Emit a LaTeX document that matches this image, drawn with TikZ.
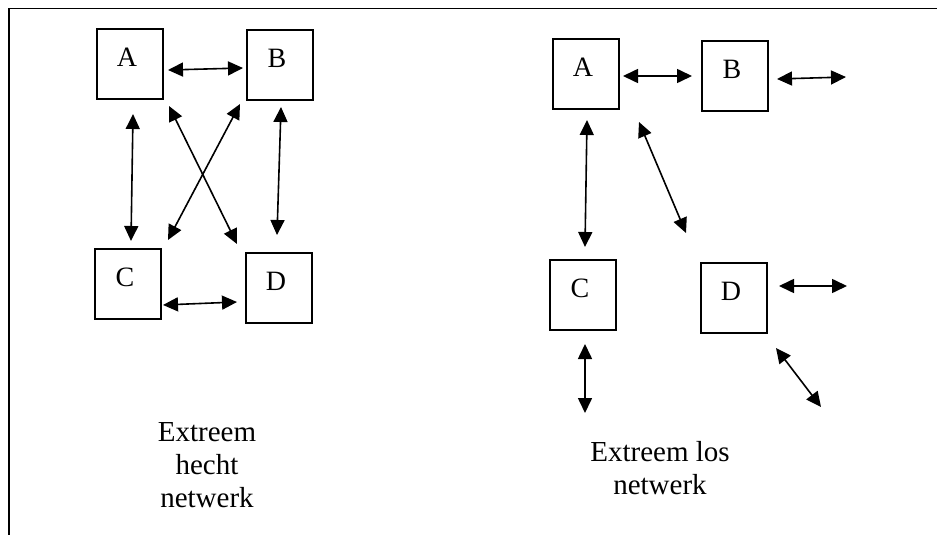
\documentclass[tikz,border=0pt]{standalone}
\usepackage{fontspec}
\setmainfont{Liberation Serif}
\usetikzlibrary{arrows.meta,calc}
\begin{document}
\begin{tikzpicture}[x=1pt,y=-1pt,
  box/.style={draw,line width=1.7pt,minimum width=66pt,minimum height=70pt,inner sep=0pt},
  lbl/.style={font=\fontsize{28}{32}\selectfont,yshift=7pt,xshift=-3pt},
  arr/.style={line width=1.6pt,{Triangle[length=15pt,width=14pt]}-{Triangle[length=15pt,width=14pt]}},
  caption/.style={align=center,font=\fontsize{29}{33}\selectfont,inner sep=0pt}]
\useasboundingbox (0,0) rectangle (937,535);
% frame
\draw[line width=1.8pt] (937,8.5) -- (9,8.5) -- (9,535);
% left network
\node[box,label={[lbl]center:A}] (LA) at (130,64) {};
\node[box,label={[lbl]center:B}] (LB) at (280,65) {};
\node[box,label={[lbl]center:C}] (LC) at (128,284) {};
\node[box,label={[lbl]center:D}] (LD) at (279,288) {};
\draw[arr] ($(LA)+(38,6)$) -- ($(LB)+(-37,3)$);
\draw[arr] ($(LA)+(3,50)$) -- ($(LC)+(3,-43)$);
\draw[arr] ($(LA)+(39,42)$) -- ($(LD)+(-42,-44)$);
\draw[arr] ($(LB)+(-40,39)$) -- ($(LC)+(40,-44)$);
\draw[arr] ($(LB)+(1,42)$) -- ($(LD)+(-2,-53)$);
\draw[arr] ($(LC)+(35,21)$) -- ($(LD)+(-42,14)$);
\node[caption] (capL) at (207,465) {Extreem\\hecht\\netwerk};
% right network
\node[box,label={[lbl]center:A}] (RA) at (586,74) {};
\node[box,label={[lbl]center:B}] (RB) at (735,76) {};
\node[box,label={[lbl]center:C}] (RC) at (583,295) {};
\node[box,label={[lbl]center:D}] (RD) at (734,298) {};
\coordinate (Bout) at (846,77);
\coordinate (Dout) at (847,286);
\coordinate (Ddiag) at (821,407);
\coordinate (Cout) at (585,413);
\draw[arr] ($(RA)+(37,2)$) -- ($(RB)+(-43,0)$);
\draw[arr] ($(RB)+(42,3)$) -- (Bout);
\draw[arr] ($(RA)+(1,46)$) -- ($(RC)+(2,-48)$);
\draw[arr] ($(RA)+(53,48)$) -- ($(RD)+(-48,-65)$);
\draw[arr] ($(RD)+(45,-12)$) -- (Dout);
\draw[arr] ($(RD)+(42,50)$) -- (Ddiag);
\draw[arr] ($(RC)+(2,49)$) -- (Cout);
\node[caption] (capR) at (660,468.5) {Extreem los\\netwerk};
\end{tikzpicture}
\end{document}
